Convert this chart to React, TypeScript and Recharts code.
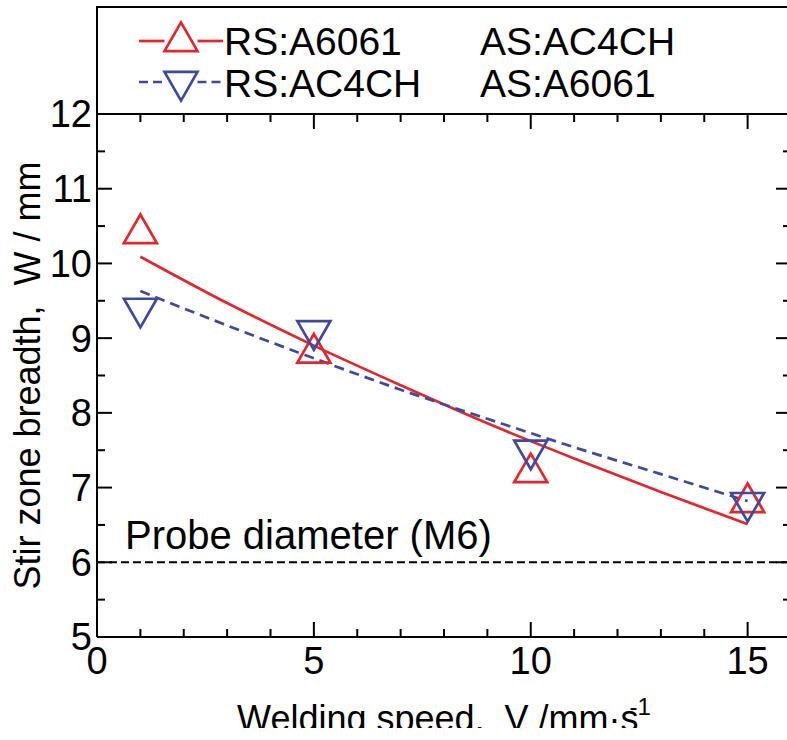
import React from 'react';
import { ComposedChart, Line, Scatter, XAxis, YAxis, ReferenceLine, Legend, Label } from 'recharts';

const RED = '#e3262c';
const BLUE = '#3d4a9e';
const FONT = '"Liberation Sans", Arial, Helvetica, sans-serif';

// measured stir zone breadths
const SPEED = [1, 5, 10, 15];
const W_RS_A6061 = [10.4, 8.8, 7.2, 6.8];
const W_RS_AC4CH = [9.4, 9.1, 7.5, 6.8];
// fitted curves
const FIT_SPEED = [1, 3, 5, 7, 9, 11, 13, 15];
const FIT_RS_A6061 = [10.09, 9.47, 8.9, 8.37, 7.86, 7.39, 6.94, 6.51];
const FIT_RS_AC4CH = [9.63, 9.17, 8.73, 8.31, 7.92, 7.54, 7.18, 6.82];

const X_DOMAIN: [number, number] = [0, 16];
const Y_DOMAIN: [number, number] = [5, 12];
const X_MAJOR = [0, 5, 10, 15];
const X_TICKS = [0, 1, 2, 3, 4, 5, 6, 7, 8, 9, 10, 11, 12, 13, 14, 15, 16];
const Y_MAJOR = [5, 6, 7, 8, 9, 10, 11, 12];
const Y_TICKS = [5, 5.5, 6, 6.5, 7, 7.5, 8, 8.5, 9, 9.5, 10, 10.5, 11, 11.5, 12];
const PROBE_DIAMETER = 6;
const PROBE_LABEL = 'Probe diameter (M6)';
const LEGEND_RS = ['RS:A6061', 'RS:AC4CH'];
const LEGEND_AS = ['AS:AC4CH', 'AS:A6061'];
const X_TITLE = 'Welding speed,  V /mm\u00b7s';
const X_TITLE_SUP = '-1';
const Y_TITLE = 'Stir zone breadth,  W / mm';

const zip = (xs: number[], ys: number[]) => xs.map((v, i) => ({ v, w: ys[i] }));
const measuredA = zip(SPEED, W_RS_A6061);
const measuredB = zip(SPEED, W_RS_AC4CH);
const fitA = zip(FIT_SPEED, FIT_RS_A6061);
const fitB = zip(FIT_SPEED, FIT_RS_AC4CH);

const SIDE = 33;
const HT = (SIDE * Math.sqrt(3)) / 2;
const triPath = (cx: number, cy: number, up: boolean) =>
  up
    ? `M${cx},${cy - (2 * HT) / 3}L${cx + SIDE / 2},${cy + HT / 3}L${cx - SIDE / 2},${cy + HT / 3}Z`
    : `M${cx},${cy + (2 * HT) / 3}L${cx + SIDE / 2},${cy - HT / 3}L${cx - SIDE / 2},${cy - HT / 3}Z`;

const UpTri = (p: any) => (
  <path d={triPath(p.cx, p.cy, true)} fill="none" stroke={RED} strokeWidth={2.7} />
);
const DownTri = (p: any) => (
  <path d={triPath(p.cx, p.cy, false)} fill="none" stroke={BLUE} strokeWidth={2.7} />
);

const TICK_FS = 38;
const MAJ = 15;
const MIN = 8;

const BottomTick = (p: any) => {
  const { x, y, payload } = p;
  const major = X_MAJOR.includes(payload.value);
  return (
    <g>
      <line x1={x} y1={y} x2={x} y2={y - (major ? MAJ : MIN)} stroke="#000" strokeWidth={2} />
      {major && (
        <text x={x} y={y + 10} dy="0.71em" textAnchor="middle" fontSize={TICK_FS} fill="#000" fontFamily={FONT}>
          {payload.value}
        </text>
      )}
    </g>
  );
};
const TopTick = (p: any) => {
  const { x, y, payload } = p;
  const major = X_MAJOR.includes(payload.value);
  return <line x1={x} y1={y} x2={x} y2={y + (major ? MAJ : MIN)} stroke="#000" strokeWidth={2} />;
};
const LeftTick = (p: any) => {
  const { x, y, payload } = p;
  const major = Y_MAJOR.includes(payload.value);
  return (
    <g>
      <line x1={x} y1={y} x2={x + (major ? MAJ : MIN)} y2={y} stroke="#000" strokeWidth={2} />
      {major && (
        <text x={x - 5} y={y} dy="0.355em" textAnchor="end" fontSize={TICK_FS} fill="#000" fontFamily={FONT}>
          {payload.value}
        </text>
      )}
    </g>
  );
};
const RightTick = (p: any) => {
  const { x, y, payload } = p;
  const major = Y_MAJOR.includes(payload.value);
  return <line x1={x} y1={y} x2={x - (major ? MAJ : MIN)} y2={y} stroke="#000" strokeWidth={2} />;
};

const YTitle = (p: any) => {
  const vb = p.viewBox || { x: 0, y: 114, width: 97, height: 523 };
  const x = vb.x + 40;
  const y = vb.y + vb.height / 2;
  return (
    <text x={x} y={y} transform={`rotate(-90, ${x}, ${y})`} textAnchor="middle" fontSize={36} fill="#000" fontFamily={FONT} style={{ whiteSpace: 'pre' }}>
      {Y_TITLE}
    </text>
  );
};
const XTitle = (p: any) => {
  const vb = p.viewBox || { x: 97, y: 637, width: 694, height: 60 };
  const x = vb.x + vb.width / 2;
  const y = vb.y + 94;
  return (
    <text x={x} y={y} textAnchor="middle" fontSize={36} fill="#000" fontFamily={FONT} style={{ whiteSpace: 'pre' }}>
      {X_TITLE}
      <tspan dx={-9} dy={-16} fontSize={24}>{X_TITLE_SUP}</tspan>
    </text>
  );
};
const ProbeLabel = (p: any) => {
  const vb = p.viewBox || { x: 97, y: 562 };
  return (
    <text x={vb.x + 28} y={vb.y - 13} fontSize={40} fill="#000" fontFamily={FONT}>
      {PROBE_LABEL}
    </text>
  );
};

const LegendBox = () => (
  <div
    style={{
      position: 'relative',
      width: 710,
      height: 108,
      boxSizing: 'border-box',
      borderTop: '2px solid #000',
      borderLeft: '2px solid #000',
      borderRight: '2px solid #000',
      fontFamily: FONT,
    }}
  >
    <svg width={706} height={106} style={{ position: 'absolute', left: 0, top: 0, overflow: 'visible' }}>
      <line x1={41} y1={33} x2={66.5} y2={33} stroke={RED} strokeWidth={2.7} />
      <line x1={99.5} y1={33} x2={125} y2={33} stroke={RED} strokeWidth={2.7} />
      <path d={triPath(83, 33.5, true)} fill="none" stroke={RED} strokeWidth={2.7} />
      <text x={126} y={47} fontSize={39} fill="#000">{LEGEND_RS[0]}</text>
      <text x={382} y={47} fontSize={39} fill="#000">{LEGEND_AS[0]}</text>

      <line x1={41} y1={74} x2={66.5} y2={74} stroke={BLUE} strokeWidth={2.7} strokeDasharray="9 5" />
      <line x1={99.5} y1={74} x2={125} y2={74} stroke={BLUE} strokeWidth={2.7} strokeDasharray="9 5" />
      <path d={triPath(83, 73.5, false)} fill="none" stroke={BLUE} strokeWidth={2.7} />
      <text x={126} y={89} fontSize={39} fill="#000">{LEGEND_RS[1]}</text>
      <text x={382} y={89} fontSize={39} fill="#000">{LEGEND_AS[1]}</text>
    </svg>
  </div>
);

export default function App() {
  return (
    <div style={{ position: 'absolute', left: 0, top: 0, width: 787, height: 728, overflow: 'hidden', background: '#fff' }}>
      <ComposedChart
        width={800}
        height={740}
        margin={{ top: 114, right: 9, bottom: 43, left: 0 }}
        style={{ fontFamily: FONT }}
      >
        <XAxis
          xAxisId={0}
          type="number"
          dataKey="v"
          domain={X_DOMAIN}
          ticks={X_TICKS}
          interval={0}
          tickLine={false}
          tickSize={0}
          tickMargin={0}
          tick={BottomTick}
          axisLine={{ stroke: '#000', strokeWidth: 2 }}
          height={60}
          allowDataOverflow
        >
          <Label content={XTitle} />
        </XAxis>
        <XAxis
          xAxisId="top"
          orientation="top"
          mirror
          type="number"
          dataKey="v"
          domain={X_DOMAIN}
          ticks={X_TICKS}
          interval={0}
          tickLine={false}
          tickSize={0}
          tickMargin={0}
          tick={TopTick}
          axisLine={{ stroke: '#000', strokeWidth: 2 }}
          allowDataOverflow
        />
        <YAxis
          yAxisId={0}
          type="number"
          domain={Y_DOMAIN}
          ticks={Y_TICKS}
          interval={0}
          tickLine={false}
          tickSize={0}
          tickMargin={0}
          tick={LeftTick}
          axisLine={{ stroke: '#000', strokeWidth: 2 }}
          width={97}
          allowDataOverflow
        >
          <Label content={YTitle} />
        </YAxis>
        <YAxis
          yAxisId="right"
          orientation="right"
          mirror
          type="number"
          domain={Y_DOMAIN}
          ticks={Y_TICKS}
          interval={0}
          tickLine={false}
          tickSize={0}
          tickMargin={0}
          tick={RightTick}
          axisLine={{ stroke: '#000', strokeWidth: 2 }}
          allowDataOverflow
        />
        <Legend
          content={LegendBox}
          layout="vertical"
          verticalAlign="middle"
          align="center"
          wrapperStyle={{ left: 96, top: 6, width: 710, height: 108, margin: 0, padding: 0 }}
        />
        <ReferenceLine
          y={PROBE_DIAMETER}
          stroke="#000"
          strokeWidth={2}
          strokeDasharray="8 4"
          label={ProbeLabel}
        />
        <Line
          data={fitA}
          dataKey="w"
          name="RS:A6061 AS:AC4CH"
          type="monotone"
          stroke={RED}
          strokeWidth={2.7}
          dot={false}
          activeDot={false}
          isAnimationActive={false}
        />
        <Line
          data={fitB}
          dataKey="w"
          name="RS:AC4CH AS:A6061"
          type="monotone"
          stroke={BLUE}
          strokeWidth={2.7}
          strokeDasharray="10 6"
          dot={false}
          activeDot={false}
          isAnimationActive={false}
        />
        <Scatter data={measuredA} dataKey="w" shape={UpTri} isAnimationActive={false} />
        <Scatter data={measuredB} dataKey="w" shape={DownTri} isAnimationActive={false} />
      </ComposedChart>
    </div>
  );
}
